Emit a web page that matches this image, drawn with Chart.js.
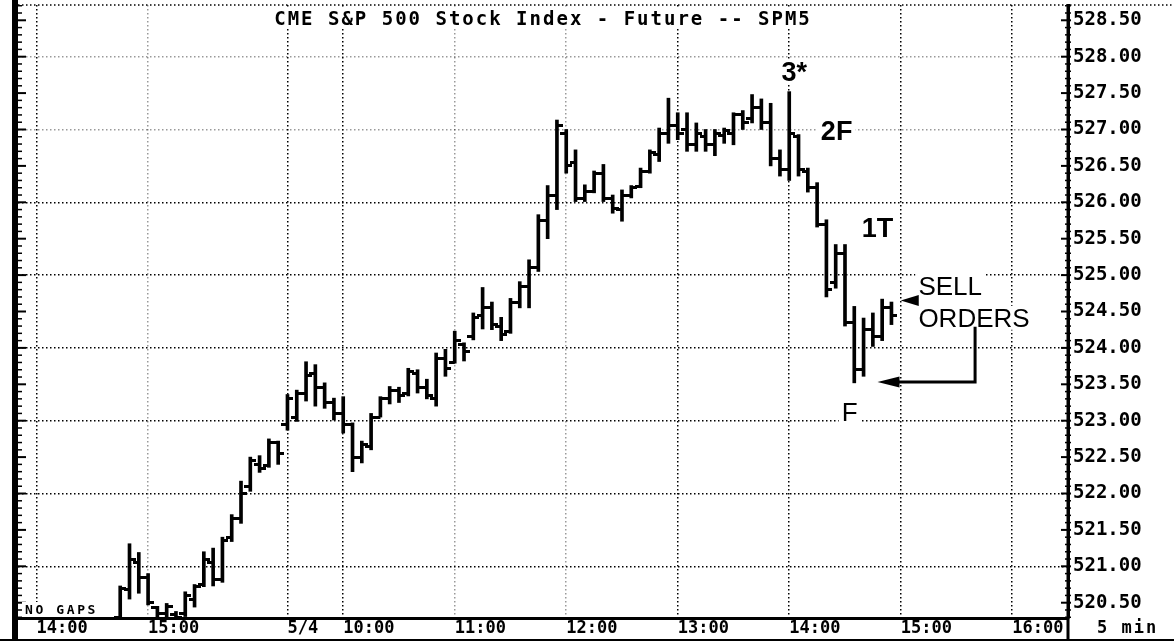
<!DOCTYPE html>
<html>
<head>
<meta charset="utf-8">
<title>CME S&amp;P 500 Stock Index - Future -- SPM5</title>
<script src="https://cdn.jsdelivr.net/npm/chart.js@4.4.1/dist/chart.umd.min.js"></script>
<style>
  html, body { margin: 0; padding: 0; background: #fff; }
  canvas { display: block; }
</style>
</head>
<body>
<canvas id="chart" width="1174" height="641"></canvas>
<script>
// 5-minute bars of the June S&P 500 future: end of the 5/3 session, then 5/4
const barTimes = [
  '14:45', '14:50', '14:55', '15:00', '15:05', '15:10', '15:15', '15:20', '15:25',
  '15:30', '15:35', '15:40', '15:45', '15:50', '15:55', '16:00', '16:05', '16:10',
  '09:30', '09:35', '09:40', '09:45', '09:50', '09:55',
  '10:00', '10:05', '10:10', '10:15', '10:20', '10:25', '10:30', '10:35', '10:40', '10:45', '10:50', '10:55',
  '11:00', '11:05', '11:10', '11:15', '11:20', '11:25', '11:30', '11:35', '11:40', '11:45', '11:50', '11:55',
  '12:00', '12:05', '12:10', '12:15', '12:20', '12:25', '12:30', '12:35', '12:40', '12:45', '12:50', '12:55',
  '13:00', '13:05', '13:10', '13:15', '13:20', '13:25', '13:30', '13:35', '13:40', '13:45', '13:50', '13:55',
  '14:00', '14:05', '14:10', '14:15', '14:20', '14:25', '14:30', '14:35', '14:40', '14:45', '14:50', '14:55'
];
const opens = [
  520.30, 520.68, 521.05, 520.85, 520.44, 520.35, 520.34, 520.35, 520.55,
  520.75, 521.05, 520.82, 521.40, 521.65, 522.10, 522.40, 522.38, 522.70,
  522.95, 523.05, 523.38, 523.65, 523.45, 523.25,
  523.10, 522.95, 522.50, 522.65, 523.05, 523.30, 523.42, 523.38, 523.65, 523.45, 523.30, 523.85,
  523.80, 524.05, 524.15, 524.45, 524.55, 524.30, 524.22, 524.62, 524.85, 525.10, 525.75, 526.10,
  526.95, 526.55, 526.05, 526.15, 526.40, 526.05, 525.90, 526.10, 526.22, 526.42, 526.65, 526.95,
  527.05, 527.00, 526.80, 526.90, 526.80, 526.92, 526.95, 527.20, 527.15, 527.30, 527.10, 526.60,
  526.45, 526.90, 526.42, 526.20, 525.70, 524.90, 525.30, 524.35, 523.70, 524.25, 524.15, 524.55
];
const highs = [
  520.73, 521.31, 521.19, 520.90, 520.45, 520.49, 520.38, 520.65, 520.75,
  521.20, 521.25, 521.40, 521.71, 522.17, 522.50, 522.52, 522.75, 522.72,
  523.36, 523.42, 523.81, 523.77, 523.52, 523.31,
  523.33, 522.97, 522.72, 523.10, 523.33, 523.47, 523.46, 523.72, 523.70, 523.57, 523.93, 523.98,
  524.23, 524.07, 524.48, 524.83, 524.63, 524.42, 524.68, 524.91, 525.21, 525.83, 526.23, 527.13,
  527.00, 526.72, 526.24, 526.43, 526.52, 526.10, 526.17, 526.23, 526.47, 526.72, 527.02, 527.43,
  527.23, 527.23, 527.09, 527.00, 527.00, 527.02, 527.23, 527.26, 527.48, 527.42, 527.36, 526.72,
  527.52, 526.93, 526.47, 526.27, 525.76, 525.42, 525.42, 524.57, 524.41, 524.48, 524.67, 524.63
];
const lows = [
  520.20, 520.55, 520.63, 520.47, 520.22, 520.24, 520.24, 520.31, 520.44,
  520.72, 520.73, 520.78, 521.34, 521.59, 522.03, 522.29, 522.36, 522.40,
  522.87, 522.99, 523.27, 523.20, 523.17, 523.01,
  522.83, 522.30, 522.42, 522.60, 523.05, 523.23, 523.25, 523.34, 523.38, 523.30, 523.20, 523.61,
  523.79, 523.82, 524.11, 524.26, 524.25, 524.10, 524.20, 524.55, 524.55, 525.05, 525.50, 525.90,
  526.40, 526.01, 526.01, 526.13, 526.01, 525.85, 525.74, 526.06, 526.20, 526.40, 526.56, 526.81,
  526.86, 526.70, 526.70, 526.70, 526.64, 526.81, 526.79, 527.00, 527.09, 527.00, 526.50, 526.36,
  526.30, 526.36, 526.14, 525.66, 524.70, 524.82, 524.30, 523.52, 523.61, 524.02, 524.10, 524.32
];
const closes = [
  520.70, 521.10, 520.84, 520.50, 520.35, 520.45, 520.30, 520.60, 520.72,
  521.10, 520.82, 521.35, 521.65, 522.00, 522.45, 522.35, 522.70, 522.55,
  523.30, 523.38, 523.62, 523.45, 523.25, 523.10,
  522.95, 522.50, 522.68, 523.05, 523.30, 523.42, 523.35, 523.68, 523.45, 523.35, 523.85, 523.72,
  524.10, 523.95, 524.42, 524.55, 524.32, 524.18, 524.62, 524.85, 525.10, 525.75, 526.10, 527.05,
  526.50, 526.05, 526.15, 526.40, 526.05, 525.92, 526.10, 526.20, 526.42, 526.68, 526.95, 527.05,
  526.95, 526.80, 526.95, 526.80, 526.95, 526.98, 527.20, 527.10, 527.30, 527.10, 526.60, 526.45,
  526.95, 526.45, 526.20, 525.70, 524.80, 525.30, 524.35, 523.70, 524.25, 524.15, 524.55, 524.45
];

// Price scale labels on the right
const priceTicks = [520.5, 521, 521.5, 522, 522.5, 523, 523.5, 524, 524.5,
                    525, 525.5, 526, 526.5, 527, 527.5, 528, 528.5];

// Time scale labels: session number (1 = 5/3, 2 = 5/4) and clock time
const axisSessions = [1, 1, 2, 2, 2, 2, 2, 2, 2, 2];
const axisTimes = ['14:00', '15:00', '09:30', '10:00', '11:00', '12:00', '13:00', '14:00', '15:00', '16:00'];
const secondSessionDate = '5/4';

// Grid lines that the old plotter printed only as a light scatter of dots
const lightPriceLines = [527, 528];
const lightTimeLines = [[1, '15:00'], [2, '11:00'], [2, '12:00']];

// Chart notes, anchored in (bar slot, price) space
const notes = [
  { text: '3*', slot: 54.55, price: 527.66, align: 'center', bold: true, size: 27 },
  { text: '2F', slot: 59.1, price: 526.86, align: 'center', bold: true, size: 27 },
  { text: '1T', slot: 63.5, price: 525.53, align: 'center', bold: true, size: 27 },
  { text: 'F', slot: 60.5, price: 522.99, align: 'center', bold: false, size: 26 },
  { text: 'SELL', slot: 67.9, price: 524.73, align: 'left', bold: false, size: 26 },
  { text: 'ORDERS', slot: 67.9, price: 524.29, align: 'left', bold: false, size: 26 }
];
const upperOrder = { slot: 66.0, price: 524.65 };
const lowerOrder = { slot: 63.5, price: 523.53, bracketSlot: 74.0, bracketTop: 524.29 };

const SESSION_OPEN = '09:30';
const SESSION_CLOSE = '16:15';
const BAR_MINUTES = 5;
const toMinutes = t => { const [h, m] = t.split(':').map(Number); return h * 60 + m; };
// Bars run on one continuous slot line with no overnight gap; slot 0 is the 5/4 open
const slotOf = (session, t) => session === 1
  ? (toMinutes(t) - toMinutes(SESSION_CLOSE)) / BAR_MINUTES
  : (toMinutes(t) - toMinutes(SESSION_OPEN)) / BAR_MINUTES;

const barSessions = [];
barTimes.forEach((t, i) => {
  const prev = i ? barSessions[i - 1] : 1;
  barSessions.push(i && toMinutes(t) < toMinutes(barTimes[i - 1]) ? prev + 1 : prev);
});
const barSlots = barTimes.map((t, i) => slotOf(barSessions[i], t));
const axisSlots = axisTimes.map((t, i) => slotOf(axisSessions[i], t));
const axisLabels = axisTimes.map((t, i) =>
  axisSessions[i] === 2 && t === SESSION_OPEN ? secondSessionDate : t);
const lightSlots = lightTimeLines.map(([s, t]) => slotOf(s, t));

const GRID = '#000';
const GRID_LIGHT = 'rgba(0,0,0,0.4)';

// Open (left) and close (right) ticks as small point images
function tickMark(side) {
  const c = document.createElement('canvas');
  c.width = 12; c.height = 3;
  const g = c.getContext('2d');
  g.fillStyle = '#000';
  g.fillRect(side === 'left' ? 0 : 6, 0, 6, 3);
  return c;
}

const MONO = '"DejaVu Sans Mono", "Liberation Mono", monospace';
const SANS = '"Liberation Sans", Arial, sans-serif';

function line(ctx, x1, y1, x2, y2) {
  ctx.beginPath(); ctx.moveTo(x1, y1); ctx.lineTo(x2, y2); ctx.stroke();
}

function boxedText(ctx, text, px, py, align, font, spacing, baseline) {
  ctx.font = font;
  ctx.letterSpacing = spacing || '0px';
  ctx.textAlign = align;
  ctx.textBaseline = baseline || 'alphabetic';
  const m = ctx.measureText(text);
  const left = align === 'center' ? px - m.width / 2 : px;
  ctx.fillStyle = '#fff';
  ctx.fillRect(left - 3, py - m.actualBoundingBoxAscent - 3, m.width + 6,
               m.actualBoundingBoxAscent + m.actualBoundingBoxDescent + 6);
  ctx.fillStyle = '#000';
  ctx.fillText(text, px, py);
  ctx.letterSpacing = '0px';
}

const frame = {
  id: 'frame',
  beforeDraw(chart) {
    const { ctx, width, height } = chart;
    ctx.save();
    ctx.fillStyle = '#fff';
    ctx.fillRect(0, 0, width, height);
    ctx.restore();
  },
  afterDraw(chart) {
    const { ctx, chartArea: a, scales: { x, y }, width: W, height: H } = chart;
    ctx.save();
    ctx.strokeStyle = '#000';
    ctx.fillStyle = '#000';

    // dotted top edge
    ctx.lineWidth = 1.5;
    ctx.setLineDash([1.5, 2.5]);
    line(ctx, a.left, a.top, W, a.top);
    ctx.setLineDash([]);

    // heavy left edge and the tick rulers on both price edges
    ctx.lineWidth = 6;
    line(ctx, a.left - 3, 0, a.left - 3, H);
    for (let k = Math.ceil(y.min * 10); k <= Math.floor(y.max * 10); k++) {
      const py = y.getPixelForValue(k / 10);
      const major = k % 5 === 0;
      ctx.lineWidth = major ? 2 : 1.5;
      line(ctx, a.left - 1, py, a.left + (major ? 8 : 4), py);
      line(ctx, a.right - (major ? 7 : 3), py, a.right + 3, py);
    }

    // right axis carried through the time row, bottom rule
    ctx.lineWidth = 3;
    line(ctx, a.right, a.top, a.right, H);
    ctx.lineWidth = 2;
    line(ctx, 0, H - 1, W, H - 1);

    // title
    boxedText(ctx, 'CME S&P 500 Stock Index - Future -- SPM5', (a.left + a.right) / 2, a.top + 20,
              'center', `bold 19px ${MONO}`, '2px');

    // corner captions
    boxedText(ctx, 'NO GAPS', a.left + 7, a.bottom - 4, 'left', `bold 13px ${MONO}`, '2.6px');
    ctx.font = `bold 17px ${MONO}`;
    ctx.letterSpacing = '2px';
    ctx.textAlign = 'left';
    ctx.textBaseline = 'middle';
    ctx.fillText('5 min', a.right + 29, a.bottom + 10.5);
    ctx.letterSpacing = '0px';

    // notes
    notes.forEach(n => {
      boxedText(ctx, n.text, x.getPixelForValue(n.slot), y.getPixelForValue(n.price), n.align,
                `${n.bold ? 'bold ' : ''}${n.size}px ${SANS}`);
    });

    // arrow at the upper sell order
    const ux = x.getPixelForValue(upperOrder.slot), uy = y.getPixelForValue(upperOrder.price);
    ctx.beginPath();
    ctx.moveTo(ux, uy);
    ctx.lineTo(ux + 18, uy - 5.5);
    ctx.lineTo(ux + 18, uy + 5.5);
    ctx.closePath();
    ctx.fill();

    // bracket from the caption down to the lower sell order
    const lx = x.getPixelForValue(lowerOrder.slot), ly = y.getPixelForValue(lowerOrder.price);
    const bx = x.getPixelForValue(lowerOrder.bracketSlot), by = y.getPixelForValue(lowerOrder.bracketTop);
    ctx.lineWidth = 3;
    ctx.lineJoin = 'miter';
    ctx.beginPath();
    ctx.moveTo(bx, by);
    ctx.lineTo(bx, ly);
    ctx.lineTo(lx + 18, ly);
    ctx.stroke();
    ctx.beginPath();
    ctx.moveTo(lx, ly);
    ctx.lineTo(lx + 22, ly - 5.5);
    ctx.lineTo(lx + 22, ly + 5.5);
    ctx.closePath();
    ctx.fill();

    ctx.restore();
  }
};

new Chart(document.getElementById('chart'), {
  type: 'bar',
  data: {
    datasets: [
      {
        label: 'Range',
        data: barSlots.map((s, i) => ({ x: s, y: [lows[i], highs[i]] })),
        backgroundColor: '#000',
        borderWidth: 0,
        barThickness: 3,
        grouped: false,
        order: 3
      },
      {
        type: 'line',
        label: 'Open',
        data: barSlots.map((s, i) => ({ x: s, y: opens[i] })),
        showLine: false,
        pointStyle: tickMark('left'),
        pointRadius: 3,
        order: 2
      },
      {
        type: 'line',
        label: 'Close',
        data: barSlots.map((s, i) => ({ x: s, y: closes[i] })),
        showLine: false,
        pointStyle: tickMark('right'),
        pointRadius: 3,
        order: 1
      }
    ]
  },
  options: {
    responsive: false,
    devicePixelRatio: 1,
    animation: false,
    events: [],
    layout: { padding: { left: 18, top: 5, right: 0, bottom: 0 } },
    plugins: { legend: { display: false }, tooltip: { enabled: false } },
    scales: {
      x: {
        type: 'linear',
        min: -29,
        max: 84,
        offset: false,
        afterBuildTicks: s => { s.ticks = axisSlots.map(value => ({ value })); },
        afterFit: s => { s.height = 23; s.paddingLeft = 0; s.paddingRight = 0; },
        ticks: {
          autoSkip: false,
          maxRotation: 0,
          minRotation: 0,
          align: 'start',
          padding: 0,
          color: '#000',
          font: { family: MONO, size: 17, weight: 'bold' },
          callback: (v, i) => axisLabels[i]
        },
        grid: {
          color: c => (c.tick && lightSlots.includes(c.tick.value)) ? GRID_LIGHT : GRID,
          lineWidth: 1.5,
          drawTicks: false,
          offset: false
        },
        border: { display: true, color: '#000', width: 3, dash: [1.5, 2.5] }
      },
      y: {
        type: 'linear',
        position: 'right',
        min: 520.29,
        max: 528.71,
        afterBuildTicks: s => { s.ticks = priceTicks.map(value => ({ value })); },
        afterFit: s => { s.width = 106; s.paddingTop = 0; s.paddingBottom = 0; },
        ticks: {
          autoSkip: false,
          padding: 5,
          color: '#000',
          font: { family: MONO, size: 19, weight: 'bold' },
          callback: v => Number(v).toFixed(2)
        },
        grid: {
          color: c => {
            const v = c.tick && c.tick.value;
            if (!Number.isInteger(v)) return 'rgba(0,0,0,0)';
            return lightPriceLines.includes(v) ? GRID_LIGHT : GRID;
          },
          lineWidth: 1.5,
          drawTicks: false
        },
        border: { display: true, color: '#000', width: 3, dash: [1.5, 2.5] }
      }
    }
  },
  plugins: [frame]
});
</script>
</body>
</html>
